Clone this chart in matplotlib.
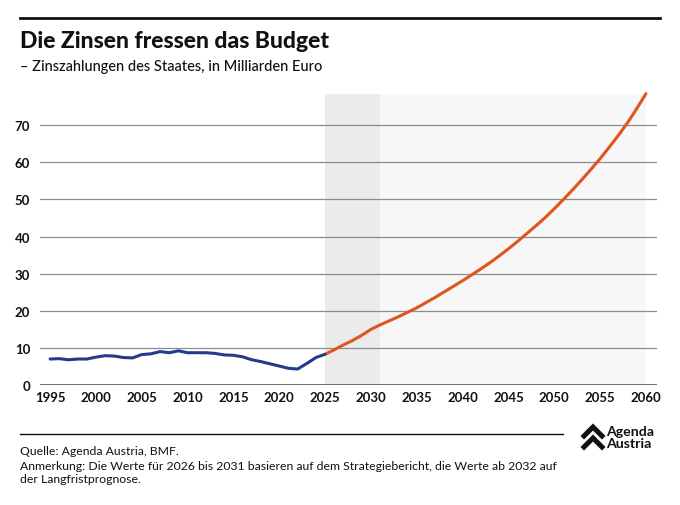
import matplotlib.pyplot as plt
from matplotlib.lines import Line2D

plt.rcParams['font.family'] = ['Lato', 'DejaVu Sans']

# Ist-Werte (Milliarden Euro)
years_hist = list(range(1995, 2026))
interest_hist = [7.0, 7.1, 6.8, 7.0, 7.0, 7.5, 7.9, 7.8, 7.4, 7.3,
                 8.2, 8.4, 9.0, 8.7, 9.2, 8.7, 8.7, 8.7, 8.5, 8.1,
                 8.0, 7.6, 6.8, 6.3, 5.7, 5.1, 4.5, 4.3, 5.8, 7.4,
                 8.3]

# Prognose
years_fc = list(range(2025, 2061))
interest_fc = [8.3, 9.5, 10.8, 12.0, 13.4, 15.0, 16.2, 17.3, 18.4, 19.6,
               20.8, 22.2, 23.6, 25.1, 26.6, 28.1, 29.7, 31.3, 33.0, 34.8,
               36.7, 38.7, 40.8, 42.9, 45.1, 47.5, 50.0, 52.6, 55.3, 58.1,
               61.0, 64.1, 67.3, 70.7, 74.5, 78.5]

xticks = list(range(1995, 2061, 5))
yticks = [0, 10, 20, 30, 40, 50, 60, 70]

fig = plt.figure(figsize=(6.8, 5.06), dpi=100)
ax = fig.add_axes([40 / 680, 1 - 386 / 506, 617 / 680, 291 / 506])

ax.set_xlim(1993.9, 2061.2)
ax.set_ylim(0, 78.4)

# shaded forecast areas
ax.axvspan(2025, 2031, color='#ebebeb', lw=0, zorder=0)
ax.axvspan(2031, 2060, color='#f7f7f7', lw=0, zorder=0)

for y in yticks[1:]:
    ax.axhline(y, color='#8c8c8c', lw=0.9, zorder=1)
ax.axhline(0, color='#555555', lw=1.2, zorder=1)

ax.plot(years_fc, interest_fc, color='#e0541e', lw=2.2, zorder=3, clip_on=False,
        solid_capstyle='round')
ax.plot(years_hist, interest_hist, color='#263a8c', lw=2.2, zorder=4,
        solid_capstyle='round')

for s in ax.spines.values():
    s.set_visible(False)
ax.set_xticks(xticks)
ax.set_yticks(yticks)
ax.tick_params(length=0, labelsize=9.5, colors='#111111')
ax.tick_params(axis='x', pad=4)
ax.tick_params(axis='y', pad=7)
for lab in ax.get_xticklabels() + ax.get_yticklabels():
    lab.set_fontweight('bold')
ax.set_facecolor('none')

# header
fig.add_artist(Line2D([20 / 680, 660 / 680], [1 - 19 / 506] * 2, color='#111111', lw=2))
fig.text(20 / 680, 1 - 42 / 506, 'Die Zinsen fressen das Budget', fontsize=16.5,
         fontweight='black', va='center', color='#111111')
fig.text(20 / 680, 1 - 67 / 506, '– Zinszahlungen des Staates, in Milliarden Euro',
         fontsize=10.5, fontweight='medium', va='center', color='#111111')

# footer
fig.add_artist(Line2D([20 / 680, 563 / 680], [1 - 435 / 506] * 2, color='#111111', lw=1))
fig.text(20 / 680, 1 - 452 / 506, 'Quelle: Agenda Austria, BMF.', fontsize=8.8,
         va='center', color='#111111')
fig.text(20 / 680, 1 - 473 / 506,
         'Anmerkung: Die Werte für 2026 bis 2031 basieren auf dem Strategiebericht, die Werte ab 2032 auf\n'
         'der Langfristprognose.', fontsize=8.8, va='center', color='#111111', linespacing=1.2)

# logo
for dy in (0, 11):
    fig.add_artist(Line2D([584 / 680, 593 / 680, 602 / 680],
                          [1 - (437 + dy) / 506, 1 - (428 + dy) / 506, 1 - (437 + dy) / 506],
                          color='#111111', lw=3.6, solid_joinstyle='miter'))
fig.text(606 / 680, 1 - 432 / 506, 'Agenda', fontsize=10.2, fontweight='bold',
         va='center', color='#111111')
fig.text(606 / 680, 1 - 444 / 506, 'Austria', fontsize=10.2, fontweight='bold',
         va='center', color='#111111')

fig.savefig('out.png', dpi=100, facecolor='white')
